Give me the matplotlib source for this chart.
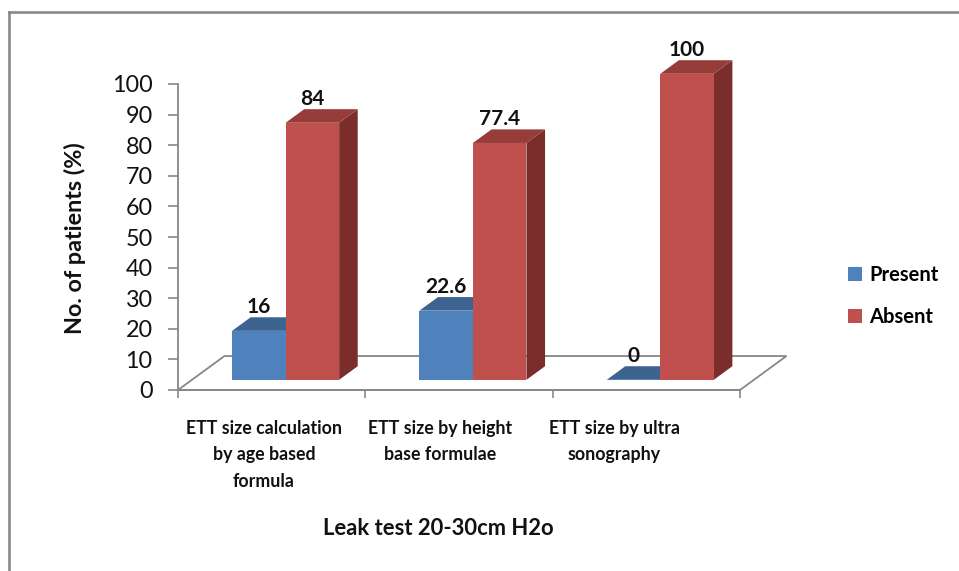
import matplotlib
matplotlib.use("Agg")
import matplotlib.pyplot as plt
from matplotlib.patches import Polygon, Patch
from matplotlib.lines import Line2D
from matplotlib.transforms import blended_transform_factory

# ---- data -------------------------------------------------------------
categories = [
    "ETT size calculation\nby age based\nformula",
    "ETT size by height\nbase formulae",
    "ETT size by ultra\nsonography",
]
series_names = ["Present", "Absent"]
present = [16, 22.6, 0]
absent = [84, 77.4, 100]
y_ticks = [0, 10, 20, 30, 40, 50, 60, 70, 80, 90, 100]
y_label = "No. of patients (%)"
x_title = "Leak test 20-30cm H2o"

# ---- style ------------------------------------------------------------
plt.rcParams["font.family"] = ["Lato", "DejaVu Sans"]
front_colors = ["#4F81BD", "#C0504D"]
top_colors = ["#3D6390", "#963D3A"]
side_colors = ["#33547C", "#7A2E2C"]
axis_gray = "#878787"
text_color = "#111111"

W, H, DPI = 959, 571, 100
fig = plt.figure(figsize=(W / DPI, H / DPI), dpi=DPI)
fig.patch.set_facecolor("white")

# plot area (front plane of the 3-D box)
L, R, T, B = 178, 740, 84, 390
ax = fig.add_axes([L / W, (H - B) / H, (R - L) / W, (B - T) / H])
ax.set_xlim(0, len(categories))
ax.set_ylim(0, 100)
ax.patch.set_alpha(0)

# oblique depth of the floor, in data units
DEPTH_X = 0.248
DEPTH_Y = 11.1
FRONT, BACK = 0.30, 0.70          # bars occupy the middle of the depth
GAP = 1.5                          # gap width relative to bar width
bar_w = 1.0 / (2 + GAP)
start = GAP * bar_w / 2

n = len(categories)
floor = Polygon([(0, 0), (n, 0), (n + DEPTH_X, DEPTH_Y), (DEPTH_X, DEPTH_Y)],
                closed=True, fill=False, edgecolor=axis_gray, lw=1.3,
                clip_on=False, zorder=1)
ax.add_patch(floor)

ddx = (BACK - FRONT) * DEPTH_X
ddy = (BACK - FRONT) * DEPTH_Y
for s, vals in enumerate([present, absent]):
    z = 3 + s
    for i, v in enumerate(vals):
        x0 = i + start + s * bar_w + FRONT * DEPTH_X
        y0 = FRONT * DEPTH_Y
        x1 = x0 + bar_w
        y1 = y0 + v
        if v > 0:
            ax.add_patch(Polygon([(x1, y0), (x1 + ddx, y0 + ddy),
                                  (x1 + ddx, y1 + ddy), (x1, y1)],
                                 closed=True, facecolor=side_colors[s],
                                 edgecolor="none", clip_on=False, zorder=z))
        ax.add_patch(Polygon([(x0, y1), (x1, y1), (x1 + ddx, y1 + ddy),
                              (x0 + ddx, y1 + ddy)],
                             closed=True, facecolor=top_colors[s],
                             edgecolor="none", clip_on=False, zorder=z + 0.1))
        ax.bar(x0, v, width=bar_w, bottom=y0, align="edge",
               color=front_colors[s], edgecolor="none", clip_on=False,
               zorder=z + 0.2)
        ax.annotate(f"{v:g}", xy=((x0 + x1) / 2, y1 + ddy),
                    xytext=(0, 3.2), textcoords="offset points",
                    ha="center", va="baseline", fontsize=15,
                    fontweight="bold", color=text_color, zorder=10,
                    annotation_clip=False)

# axes, ticks
for side in ["top", "right"]:
    ax.spines[side].set_visible(False)
for side in ["left", "bottom"]:
    ax.spines[side].set_color(axis_gray)
    ax.spines[side].set_linewidth(1.3)
ax.set_yticks(y_ticks)
ax.tick_params(axis="y", direction="out", length=7.2, width=1.2,
               color=axis_gray, labelsize=16.8, pad=11, labelcolor=text_color)
ax.set_xticks(range(n + 1))
ax.set_xticklabels([])
ax.tick_params(axis="x", direction="out", length=5.8, width=1.2,
               color=axis_gray)

# category labels under the floor
label_x = [0.459, 1.399, 2.328]
trans = blended_transform_factory(ax.transData, ax.transAxes)
for xc, name in zip(label_x, categories):
    ax.text(xc, -0.097, name, transform=trans, ha="center", va="top",
            fontsize=12.8, fontweight="bold", linespacing=1.7,
            color=text_color, multialignment="center")

ax.text(0.464, -0.451, x_title, transform=ax.transAxes, ha="center",
        va="center", fontsize=15.8, fontweight="bold", color=text_color)
ax.text(-0.183, 0.497, y_label, transform=ax.transAxes, ha="center",
        va="center", rotation=90, fontsize=16.8, fontweight="bold",
        color=text_color)

# legend
handles = [Patch(facecolor=c, edgecolor="none") for c in front_colors]
fig.legend(handles, series_names, loc="center left",
           bbox_to_anchor=(848 / W, 1 - 296 / H), frameon=False,
           borderpad=0, borderaxespad=0, handlelength=0.7, handleheight=0.7,
           handletextpad=0.35, labelspacing=1.1,
           prop={"weight": "bold", "size": 14.5})

# outer chart frame (top and left edges)
fx, fy = 8.5 / W, 1 - 12 / H
fig.add_artist(Line2D([fx, 1], [fy, fy], color="#8a8a8a", lw=1.9,
                      transform=fig.transFigure))
fig.add_artist(Line2D([fx, fx], [0, fy], color="#8a8a8a", lw=1.9,
                      transform=fig.transFigure))

fig.savefig("out.png", dpi=DPI)
